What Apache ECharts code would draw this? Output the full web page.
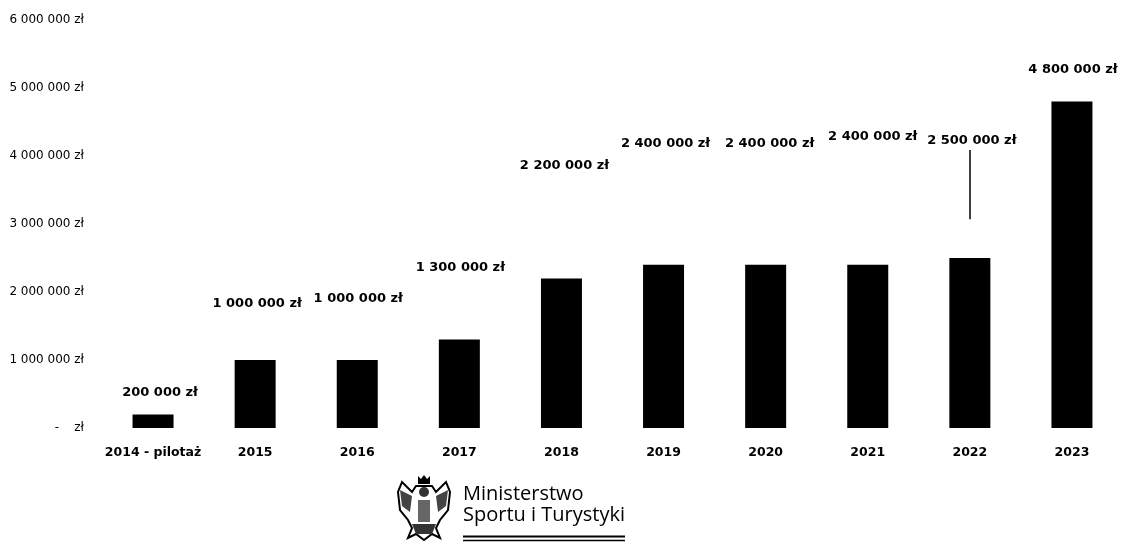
<!DOCTYPE html>
<html>
<head>
<meta charset="utf-8">
<script src="https://cdn.jsdelivr.net/npm/echarts@6/dist/echarts.min.js"></script>
<style>
html,body{margin:0;padding:0;background:#fff;}
#c{width:1123px;height:542px;}
</style>
</head>
<body>
<div id="c"></div>
<script>
var categories = ['2014 - pilotaż','2015','2016','2017','2018','2019','2020','2021','2022','2023'];
var values = [200000,1000000,1000000,1300000,2200000,2400000,2400000,2400000,2500000,4800000];
var yTicks = [0,1000000,2000000,3000000,4000000,5000000,6000000];
// label displacement (styling) in pixels [dx, dy]
var labelOffsets = [[7,-10],[2,-45],[1,-50],[1,-60],[3,-101],[2,-110],[4,-110],[5,-117],[2,-106],[1,-20]];
// leader line for the 2022 label (data units)
var leaderFrom = 3070000, leaderTo = 4090000;

function fmt(v){
  return String(v).replace(/\B(?=(\d{3})+(?!\d))/g,' ') + ' zł';
}

var chart = echarts.init(document.getElementById('c'));
var barData = values.map(function(v,i){
  return {value:v, label:{offset:labelOffsets[i]}};
});

chart.setOption({
  animation:false,
  backgroundColor:'#fff',
  grid:{left:102,right:-2,top:20,bottom:114,containLabel:false},
  xAxis:{
    type:'category',
    data:categories,
    axisLine:{show:false},
    axisTick:{show:false},
    axisLabel:{interval:0,color:'#000',fontFamily:'DejaVu Sans',fontWeight:'bold',fontSize:12.5,margin:18}
  },
  yAxis:{
    type:'value',
    min:yTicks[0],
    max:yTicks[yTicks.length-1],
    interval:yTicks[1]-yTicks[0],
    axisLine:{show:false},
    axisTick:{show:false},
    splitLine:{show:false},
    axisLabel:{
      color:'#000',fontFamily:'DejaVu Sans',fontSize:12,margin:18,
      formatter:function(v){return v===0?'-    zł':fmt(v);}
    }
  },
  series:[{
    type:'bar',
    data:barData,
    barWidth:41,
    itemStyle:{color:'#000'},
    label:{
      show:true,position:'top',distance:5,
      color:'#000',fontFamily:'DejaVu Sans',fontWeight:'bold',fontSize:13,
      formatter:function(p){return fmt(p.value);}
    },
    markLine:{
      silent:true,
      symbol:['none','none'],
      label:{show:false},
      lineStyle:{color:'#000',width:1.5,type:'solid'},
      data:[[{coord:[categories[8],leaderFrom]},{coord:[categories[8],leaderTo]}]]
    }
  }],
  graphic:[
    {type:'text',left:463,top:484,style:{text:'Ministerstwo',fontFamily:'Open Sans',fontSize:20,fill:'#000'}},
    {type:'text',left:463,top:505,style:{text:'Sportu i Turystyki',fontFamily:'Open Sans',fontSize:20,fill:'#000'}},
    {type:'line',shape:{x1:463,y1:536.5,x2:625,y2:536.5},style:{stroke:'#000',lineWidth:2}},
    {type:'line',shape:{x1:463,y1:540.5,x2:625,y2:540.5},style:{stroke:'#000',lineWidth:1.5}},
    {type:'group',children:[
      {type:'polygon',shape:{points:[[418,476],[421,479],[424,475],[427,479],[430,476],[430,484],[418,484]]},style:{fill:'#000'}},
      {type:'polygon',shape:{points:[[416,486],[432,486],[436,492],[446,482],[450,492],[448,510],[440,520],[436,528],[440,538],[432,534],[424,540],[416,534],[408,538],[412,528],[408,520],[400,510],[398,492],[402,482],[412,492]]},
        style:{fill:'#fff',stroke:'#000',lineWidth:2}},
      {type:'polygon',shape:{points:[[400,490],[412,496],[410,512],[402,506]]},style:{fill:'#444'}},
      {type:'polygon',shape:{points:[[448,490],[436,496],[438,512],[446,506]]},style:{fill:'#444'}},
      {type:'circle',shape:{cx:424,cy:492,r:5},style:{fill:'#333'}},
      {type:'rect',shape:{x:418,y:500,width:12,height:22},style:{fill:'#666'}},
      {type:'polygon',shape:{points:[[412,524],[436,524],[432,534],[416,534]]},style:{fill:'#333'}}
    ]}
  ]
});
</script>
</body>
</html>
